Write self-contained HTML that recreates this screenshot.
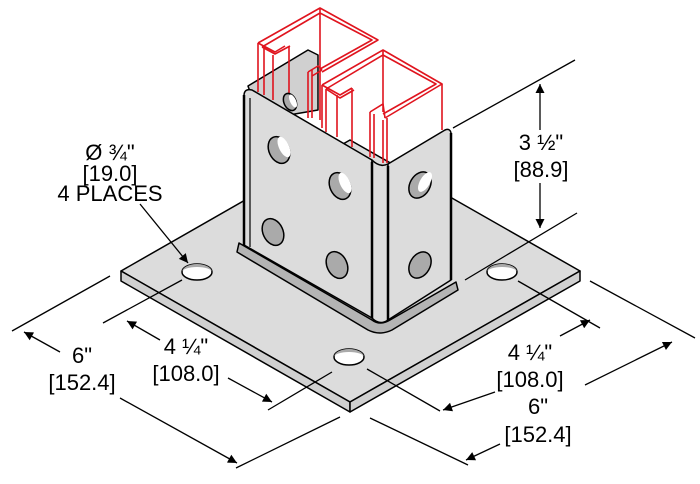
<!DOCTYPE html>
<html><head><meta charset="utf-8"><style>html,body{margin:0;padding:0;background:#fff}svg{display:block}</style></head><body>
<svg width="700" height="484" viewBox="0 0 700 484" xmlns="http://www.w3.org/2000/svg" font-family="Liberation Sans, sans-serif" font-size="22" fill="none" stroke-linejoin="round">
<defs><marker id="a" viewBox="0 0 10 10" refX="10" refY="5" markerWidth="13" markerHeight="9" orient="auto-start-reverse" markerUnits="userSpaceOnUse"><path d="M0,0 L10,5 L0,10 z" fill="#000"/></marker></defs>
<polygon points="121,271 350,140 580,271 350,402" fill="#dcdcdc" stroke="#000" stroke-width="1.5"/>
<polygon points="121,271 350,402 350,412 121,281" fill="#d0d0d0" stroke="#000" stroke-width="1.5"/>
<polygon points="350,402 580,271 580,281 350,412" fill="#d0d0d0" stroke="#000" stroke-width="1.5"/>
<g stroke="#000" stroke-width="1.5" fill="#fff">
<ellipse cx="197" cy="272" rx="15" ry="8"/><ellipse cx="502" cy="272" rx="15" ry="8"/><ellipse cx="349" cy="357" rx="15" ry="8"/>
</g>
<g fill="#aaa"><path d="M182,272 a15,8 0 0 1 30,0 a15,5 0 0 0 -30,0z"/><path d="M487,272 a15,8 0 0 1 30,0 a15,5 0 0 0 -30,0z"/><path d="M334,357 a15,8 0 0 1 30,0 a15,5 0 0 0 -30,0z"/></g>
<path d="M239,243 L372,320 Q380,326 390,320 L456,282 L458,290 L392,330 Q380,336 368,330 L237,252 Z" fill="#b4b4b4" stroke="#000" stroke-width="1.5"/>
<polygon points="248,86 308,50 318,55 318,110 260,120" fill="#d0d0d0" stroke="#000" stroke-width="1.5"/>
<g stroke="#e0141e" stroke-width="1.6">
<path d="M258,43 L320,8 L378,40 L322,72 M262,47 L320,13 L372,40 L320,69 M258,43 L275,52 L285,46 M262,47 L275,54 L290,46 M320,8 L320,120"/>
<path d="M258,43 V92 M264,48 V95 M273,55 V100 M289,46 V108 M308,72 V118 M312,70 V118"/>
<path d="M308,72 L318,66 L322,70 M312,76 L322,70"/>
<path d="M322,85 L383,50 L442,84 L385,118 M326,89 L383,55 L436,84 L383,114 M322,85 L340,95 L352,88 M326,89 L340,98 L354,90 M370,112 L383,104 L385,118"/>
<path d="M322,85 V128 M326,89 V132 M337,95 V137 M352,88 V147 M370,112 V157 M374,114 V158 M383,120 V163 M387,118 V163 M442,84 V130 M383,50 V112"/>
</g>
<path d="M244,96 Q244,88 252,90 L372,160 L372,318 L244,245 Z" fill="#dcdcdc" stroke="#000" stroke-width="1.5"/>
<path d="M372,160 Q380,168 388,164 L388,320 Q380,326 372,318 Z" fill="#dcdcdc" stroke="#000" stroke-width="1.5"/>
<path d="M388,164 L445,130 Q450,128 451,133 L451,280 L388,320 Z" fill="#dcdcdc" stroke="#000" stroke-width="1.5"/>
<line x1="244" y1="95" x2="244" y2="245" stroke="#000" stroke-width="2.5"/>
<line x1="250" y1="98" x2="250" y2="247" stroke="#000" stroke-width="1.2"/>
<line x1="372" y1="162" x2="372" y2="318" stroke="#000" stroke-width="2.5"/>
<line x1="388" y1="166" x2="388" y2="320" stroke="#000" stroke-width="2.5"/>
<line x1="451" y1="133" x2="451" y2="280" stroke="#000" stroke-width="2.5"/>
<g stroke="#000" stroke-width="1.5" fill="#aaa">
<ellipse cx="279" cy="150" rx="10" ry="14" transform="rotate(-25 279 150)"/>
<ellipse cx="340" cy="186" rx="10" ry="14" transform="rotate(-25 340 186)"/>
<ellipse cx="273" cy="232" rx="10" ry="14" transform="rotate(-25 273 232)"/>
<ellipse cx="337" cy="265" rx="10" ry="14" transform="rotate(-25 337 265)"/>
<ellipse cx="420" cy="185" rx="10" ry="14" transform="rotate(30 420 185)"/>
<ellipse cx="420" cy="265" rx="10" ry="14" transform="rotate(30 420 265)"/>
<ellipse cx="290" cy="102" rx="6" ry="9" transform="rotate(-25 290 102)"/>
</g>
<g fill="#fff"><ellipse cx="284" cy="147" rx="5" ry="11" transform="rotate(-25 284 147)"/><ellipse cx="345" cy="183" rx="5" ry="11" transform="rotate(-25 345 183)"/><ellipse cx="425" cy="182" rx="5" ry="11" transform="rotate(30 425 182)"/><ellipse cx="293" cy="101" rx="3" ry="7" transform="rotate(-25 293 101)"/></g>
<g stroke="#000" stroke-width="1.3">
<line x1="453" y1="128" x2="575" y2="60"/>
<line x1="465" y1="280" x2="577" y2="213"/>
<line x1="540" y1="130" x2="540" y2="84" marker-end="url(#a)"/>
<line x1="540" y1="183" x2="540" y2="228" marker-end="url(#a)"/>
<line x1="140" y1="204" x2="188" y2="263" marker-end="url(#a)"/>
<line x1="110" y1="276" x2="12" y2="331"/>
<line x1="340" y1="417" x2="236" y2="468"/>
<line x1="60" y1="352" x2="24" y2="332" marker-end="url(#a)"/>
<line x1="120" y1="398" x2="237" y2="463" marker-end="url(#a)"/>
<line x1="182" y1="280" x2="103" y2="323"/>
<line x1="332" y1="372" x2="268" y2="410"/>
<line x1="160" y1="340" x2="127" y2="321" marker-end="url(#a)"/>
<line x1="228" y1="378" x2="272" y2="402" marker-end="url(#a)"/>
<line x1="518" y1="281" x2="600" y2="328"/>
<line x1="367" y1="369" x2="440" y2="411"/>
<line x1="560" y1="336" x2="590" y2="320" marker-end="url(#a)"/>
<line x1="495" y1="392" x2="443" y2="410" marker-end="url(#a)"/>
<line x1="590" y1="281" x2="695" y2="338"/>
<line x1="370" y1="418" x2="468" y2="465"/>
<line x1="585" y1="385" x2="672" y2="342" marker-end="url(#a)"/>
<line x1="500" y1="444" x2="466" y2="460" marker-end="url(#a)"/>
</g>
<g fill="#000" stroke="none" text-anchor="middle">
<text x="110" y="160">Ø ¾"</text>
<text x="110" y="181">[19.0]</text>
<text x="110" y="201">4 PLACES</text>
<text x="541" y="150">3 ½"</text>
<text x="541" y="177">[88.9]</text>
<text x="82" y="363">6"</text>
<text x="82" y="390">[152.4]</text>
<text x="186" y="354">4 ¼"</text>
<text x="186" y="381">[108.0]</text>
<text x="530" y="360">4 ¼"</text>
<text x="530" y="387">[108.0]</text>
<text x="538" y="414">6"</text>
<text x="538" y="442">[152.4]</text>
</g>
</svg>
</body></html>
